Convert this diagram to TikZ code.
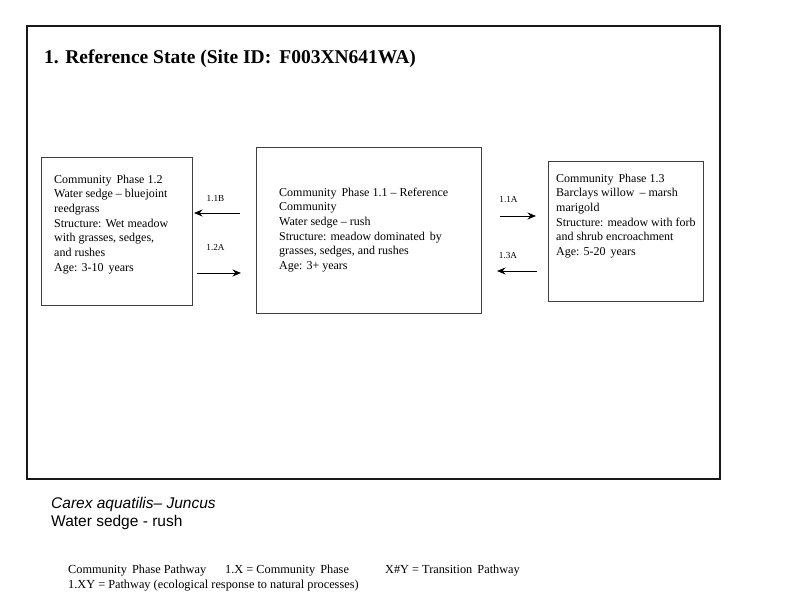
\documentclass[tikz,border=0pt]{standalone}
\usepackage{fontspec}
\setmainfont{Liberation Serif}
\setsansfont{Liberation Sans}
\usetikzlibrary{arrows.meta}
\begin{document}
\begin{tikzpicture}[x=1pt,y=-1pt,
  frame/.style={draw=black!90,line width=2.2pt},
  phasebox/.style={draw=black!75,line width=0.9pt},
  boxtext/.style={anchor=north west,inner sep=0pt,align=left,
    font=\fontsize{12}{14.7}\selectfont},
  pathlabel/.style={inner sep=0pt,font=\fontsize{9.2}{10}\selectfont},
  patharrow/.style={line width=1pt,-{Stealth[length=8.5pt,width=7pt]}},
  legendtext/.style={anchor=base west,inner sep=0pt,font=\fontsize{12.3}{14}\selectfont},
  nametext/.style={anchor=base west,inner sep=0pt,font=\sffamily\fontsize{15.5}{18}\selectfont}]
\useasboundingbox (0,0) rectangle (800,600);
\fill[white] (0,0) rectangle (800,600);
% outer frame
\draw[frame] (27,26) rectangle (720,479);
\node[anchor=base west,inner sep=0pt,font=\bfseries\fontsize{19.5}{23}\selectfont] (title) at (44,63) {1. Reference State (Site ID:\, F003XN641WA)};
% boxes
\draw[phasebox] (41,157) rectangle (192,305);
\draw[phasebox] (256,147) rectangle (481,313);
\draw[phasebox] (548,161) rectangle (703,301);
\node[boxtext] (p12) at (54,174.5) {Community\, Phase 1.2\\Water sedge -- bluejoint\\reedgrass\\Structure: Wet meadow\\with grasses, sedges,\\and rushes\\Age: 3-10\, years};
\node[boxtext] (p11) at (279,187.5) {Community\, Phase 1.1 -- Reference\\Community\\Water sedge -- rush\\Structure: meadow dominated\, by\\grasses, sedges, and rushes\\Age: 3+ years};
\node[boxtext] (p13) at (556,173.5) {Community\, Phase 1.3\\Barclays willow\, -- marsh\\marigold\\Structure: meadow with forb\\and shrub encroachment\\Age: 5-20\, years};
% arrows
\coordinate (b1s) at (240,213); \coordinate (b1e) at (194,213);
\coordinate (a2s) at (197,273); \coordinate (a2e) at (241,273);
\coordinate (a1s) at (500,216); \coordinate (a1e) at (536,216);
\coordinate (a3s) at (537,271); \coordinate (a3e) at (497,271);
\draw[patharrow] (b1s) -- (b1e);
\draw[patharrow] (a2s) -- (a2e);
\draw[patharrow] (a1s) -- (a1e);
\draw[patharrow] (a3s) -- (a3e);
\node[pathlabel] (l11b) at (215.5,199) {1.1B};
\node[pathlabel] (l12a) at (215.5,248) {1.2A};
\node[pathlabel] (l11a) at (508.5,200) {1.1A};
\node[pathlabel] (l13a) at (508,256) {1.3A};
% name
\node[nametext] (sci) at (51,508) {\itshape Carex aquatilis-- Juncus};
\node[nametext] (com) at (51,526) {Water sedge - rush};
% legend
\node[legendtext] (lg1) at (68,573) {Community\, Phase Pathway};
\node[legendtext] (lg2) at (225,573) {1.X = Community\, Phase};
\node[legendtext] (lg3) at (385,573) {X\#Y = Transition\, Pathway};
\node[legendtext] (lg4) at (68,588) {1.XY = Pathway (ecological response to natural processes)};
\end{tikzpicture}
\end{document}
